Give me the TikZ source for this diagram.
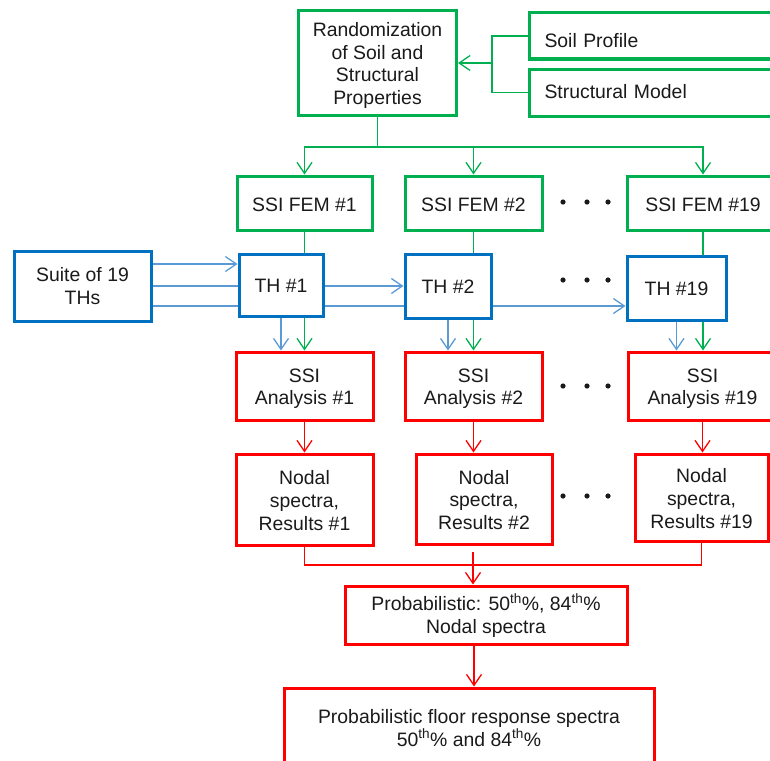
\documentclass[tikz,border=0pt]{standalone}
\usepackage{fontspec}
\setmainfont{Liberation Sans}
\usetikzlibrary{arrows.meta,backgrounds}
\definecolor{fgreen}{HTML}{00B050}
\definecolor{fblue}{HTML}{0070C0}
\definecolor{lblue}{HTML}{5B9BD5}
\definecolor{fred}{HTML}{FF0000}
\definecolor{txt}{HTML}{1A1A1A}
\newcommand\supth{\textsuperscript{th}}
% invisible rules that set the height of a first line or the depth of a last one
\newcommand\topgap[1]{\rule{0pt}{#1}}
\newcommand\botgap[1]{\rule[-#1]{0pt}{#1}}

\begin{document}
\begin{tikzpicture}[x=1pt,y=-1pt,
  box/.style={draw, line width=3pt, fill=white, inner sep=0pt, align=center,
    text=txt, font=\fontsize{19.4}{22.8}\selectfont},
  greenbox/.style={box, draw=fgreen},
  bluebox/.style={box, draw=fblue},
  redbox/.style={box, draw=fred},
  conn/.style={line width=1.3pt},
  gline/.style={conn, draw=fgreen},
  bline/.style={conn, draw=lblue},
  rline/.style={conn, draw=fred},
  tip/.style={-{Straight Barb[length=11pt,width=15pt,line width=1.3pt]}},
  dot/.style={fill=txt}
]
\useasboundingbox (0,0) rectangle (770,760);

% inputs and randomization
\node[greenbox, minimum width=158, minimum height=105] (rand) at (377.5,63)
  {\topgap{19pt}Randomization\\of Soil and\\Structural\\Properties};
\node[greenbox, anchor=west, minimum height=46, text width=233, inner xsep=15pt,
  align=left] (soil) at (528,36) {\topgap{23pt}Soil Profile};
\node[greenbox, anchor=west, minimum height=47, text width=233, inner xsep=15pt,
  align=left] (struct) at (528,92.5) {Structural Model\botgap{1.5pt}};

% finite element models
\node[greenbox, minimum width=135, minimum height=54] (fem1) at (304.5,203) {\topgap{17pt}SSI FEM \#1};
\node[greenbox, minimum width=137, minimum height=54] (fem2) at (473.5,203) {\topgap{17pt}SSI FEM \#2};
\node[greenbox, minimum width=152, minimum height=54] (fem19) at (703,203) {\topgap{17pt}SSI FEM \#19};

% time histories
\node[bluebox, minimum width=137, minimum height=70] (suite)
  at (82.5,286) {Suite of 19\\THs};
\node[bluebox, minimum width=84, minimum height=62] (th1) at (281,285) {\topgap{15pt}TH \#1};
\node[bluebox, minimum width=86, minimum height=64] (th2) at (448,286) {\topgap{15pt}TH \#2};
\node[bluebox, minimum width=99, minimum height=64] (th19) at (676.5,288) {\topgap{15pt}TH \#19};

% analyses
\node[redbox, minimum width=137, minimum height=68] (an1) at (304.5,386) {\topgap{19pt}SSI\\Analysis \#1};
\node[redbox, minimum width=137, minimum height=68] (an2) at (473.5,386) {\topgap{19pt}SSI\\Analysis \#2};
\node[redbox, minimum width=149, minimum height=68] (an19) at (702.5,386) {\topgap{19pt}SSI\\Analysis \#19};

% nodal results
\node[redbox, minimum width=137, minimum height=91] (nd1) at (304.5,499.5) {\topgap{16pt}Nodal\\spectra,\\Results \#1};
\node[redbox, minimum width=136, minimum height=90] (nd2) at (484,499) {\topgap{16pt}Nodal\\spectra,\\Results \#2};
\node[redbox, minimum width=133, minimum height=87] (nd19) at (701.5,497.5) {\topgap{16pt}Nodal\\spectra,\\Results \#19};

% statistics
\node[redbox, minimum width=282, minimum height=58] (prob) at (486,615)
  {\topgap{18pt}Probabilistic: 50\supth\%, 84\supth\%\\Nodal spectra};
\node[redbox, minimum width=370, minimum height=78] (final) at (469,727)
  {\topgap{16pt}Probabilistic floor response spectra\\50\supth\% and 84\supth\%};

% ellipsis dots
\foreach \yy in {202,280,386,496} {
  \foreach \xx in {563,587,608} { \fill[dot] (\xx,\yy) circle[radius=2.6]; }
}

\coordinate (jn) at (492,63);
\coordinate (bus1) at (377.5,147);
\coordinate (bus2) at (473,565);
\coordinate (mtop) at (473,552);

\begin{pgfonlayer}{background}
  % model inputs
  \draw[gline] (soil.west) -| (jn) |- (struct.west);
  \draw[gline,tip] (jn) -- (rand.east);
  \draw[gline] (rand.south) -- (bus1);
  \draw[gline,tip] (bus1) -| (fem1.north);
  \draw[gline,tip] (bus1) -| (fem2.north);
  \draw[gline,tip] (bus1) -| (fem19.north);
  % models feed the analyses
  \draw[gline,tip] (fem1.south) -- (an1.north);
  \draw[gline,tip] (fem2.south) -- (an2.north);
  \draw[gline,tip] (fem19.south) -- (fem19.south |- an19.north);
  % time histories
  \draw[bline,tip] (suite.east |- 0,264) -- (th1.west |- 0,264);
  \draw[bline,tip] (suite.east) -- (th2.west |- suite.east);
  \draw[bline,tip] (suite.east |- 0,306) -- (th19.west |- 0,306);
  \draw[bline,tip] (th1.south) -- (th1.south |- an1.north);
  \draw[bline,tip] (th2.south) -- (th2.south |- an2.north);
  \draw[bline,tip] (th19.south) -- (th19.south |- an19.north);
  % analyses to results
  \draw[rline,tip] (an1.south) -- (an1.south |- nd1.north);
  \draw[rline,tip] (an2.south) -- (an2.south |- nd2.north);
  \draw[rline,tip] (an19.south) -- (an19.south |- nd19.north);
  \draw[rline] (nd1.south) |- (bus2);
  \draw[rline] (nd19.south) |- (bus2);
  \draw[rline,tip] (mtop) -- (mtop |- prob.north);
  \draw[rline,tip] (prob.south -| 474,0) -- (final.north -| 474,0);
\end{pgfonlayer}
\end{tikzpicture}
\end{document}
